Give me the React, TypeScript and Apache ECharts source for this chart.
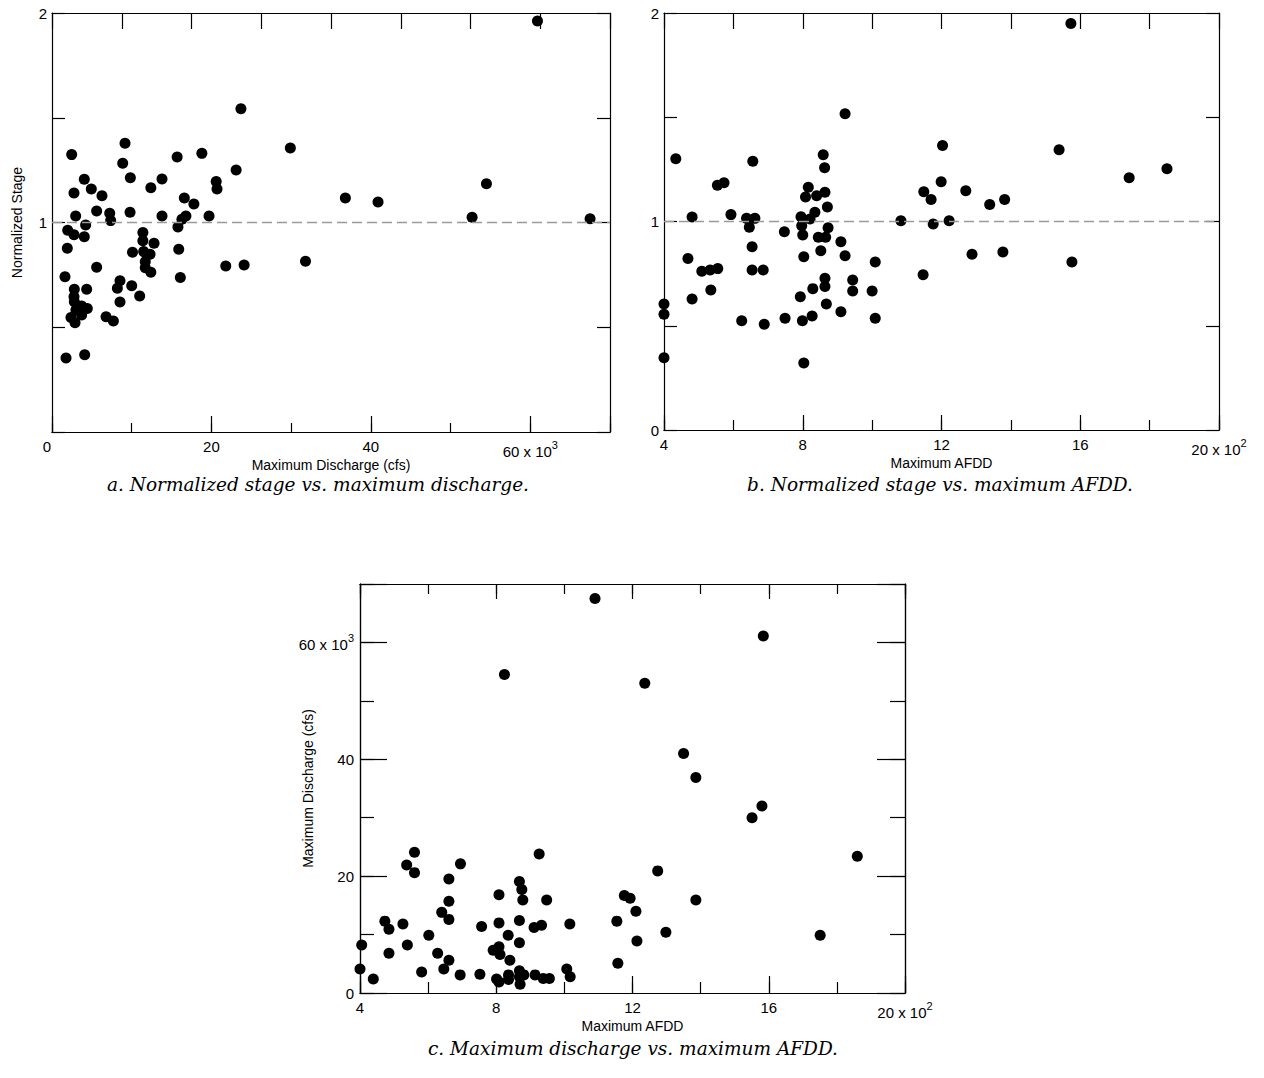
import React, { useEffect, useRef } from "react";
import * as echarts from "echarts";

// a. maximum discharge (x 10^3 cfs) vs. normalized stage
const stageVsDischarge: [number, number][] = [
  [23.7, 1.543], [9.16, 1.378], [2.47, 1.324], [15.7, 1.313], [18.8, 1.33], [8.87, 1.283],
  [29.9, 1.356], [23.1, 1.251], [9.83, 1.214], [4.05, 1.206], [13.8, 1.208], [12.4, 1.166],
  [4.93, 1.16], [20.6, 1.196], [20.7, 1.16], [2.76, 1.141], [6.27, 1.128], [16.6, 1.117],
  [17.8, 1.088], [5.6, 1.055], [7.24, 1.044], [9.79, 1.049], [2.97, 1.031], [13.8, 1.031],
  [19.7, 1.031], [16.8, 1.031], [16.3, 1.015], [7.36, 1.009], [4.22, 0.988], [1.97, 0.963],
  [11.4, 0.952], [15.8, 0.978],
  [60.9, 1.962], [36.8, 1.117], [40.9, 1.098], [54.5, 1.185], [52.7, 1.025], [67.5, 1.018],
  [2.76, 0.942], [4.05, 0.932], [11.4, 0.913], [12.8, 0.901], [10.1, 0.858], [11.5, 0.861],
  [12.3, 0.848], [11.7, 0.813], [11.7, 0.784], [12.4, 0.762], [15.9, 0.872], [16.1, 0.737],
  [1.92, 0.877], [5.6, 0.786], [1.63, 0.741], [21.8, 0.792], [24.1, 0.797], [31.8, 0.815],
  [2.8, 0.681], [4.35, 0.681], [8.53, 0.722], [8.2, 0.686], [10.0, 0.698], [11.0, 0.649],
  [8.53, 0.621], [2.76, 0.646], [2.8, 0.622], [3.72, 0.601], [4.43, 0.59], [3.0, 0.582],
  [3.72, 0.558], [2.38, 0.547], [2.89, 0.522], [6.78, 0.55], [7.7, 0.53], [1.76, 0.353],
  [4.1, 0.369],
];

// b. maximum AFDD (x 10^2) vs. normalized stage
const stageVsAfdd: [number, number][] = [
  [9.22, 1.517], [4.34, 1.301], [6.56, 1.289], [8.59, 1.32], [8.63, 1.258], [5.54, 1.174],
  [5.73, 1.186], [8.16, 1.164], [8.08, 1.117], [8.4, 1.124], [8.64, 1.14], [8.71, 1.07],
  [8.35, 1.044], [8.21, 1.012], [7.95, 1.023], [7.97, 0.98], [5.93, 1.033], [4.81, 1.022],
  [6.38, 1.015], [6.62, 1.015], [6.46, 0.972], [8.73, 0.97], [7.47, 0.951], [10.83, 1.004],
  [12.03, 1.364], [11.99, 1.191], [11.49, 1.143], [11.7, 1.106], [11.76, 0.988], [12.22, 1.004],
  [15.73, 1.95], [15.39, 1.344], [12.7, 1.148], [13.39, 1.082], [13.82, 1.105], [17.41, 1.21],
  [18.5, 1.253],
  [6.54, 0.879], [8.0, 0.935], [8.03, 0.831], [8.45, 0.924], [8.66, 0.924], [8.52, 0.86],
  [9.1, 0.903], [9.22, 0.836], [10.09, 0.806], [11.47, 0.745], [4.69, 0.823], [5.09, 0.761],
  [5.33, 0.767], [5.55, 0.774], [5.35, 0.671], [4.81, 0.628], [6.54, 0.767], [6.86, 0.767],
  [4.0, 0.604], [4.0, 0.555], [4.0, 0.347], [6.24, 0.524], [6.89, 0.507], [7.49, 0.536],
  [7.99, 0.524], [8.27, 0.547], [7.93, 0.639], [8.29, 0.678], [8.64, 0.728], [8.64, 0.688],
  [8.68, 0.604], [9.1, 0.567], [9.44, 0.719], [9.44, 0.667], [10.0, 0.667], [10.09, 0.536],
  [8.03, 0.321], [12.88, 0.843], [13.77, 0.854], [15.76, 0.806],
];

// c. maximum AFDD (x 10^2) vs. maximum discharge (x 10^3 cfs)
const dischargeVsAfdd: [number, number][] = [
  [8.24, 54.5], [10.9, 67.5], [15.84, 61.1], [12.36, 53.0], [13.5, 41.0], [13.86, 36.9],
  [15.8, 32.0], [15.51, 30.0], [18.6, 23.4], [12.74, 20.9], [11.76, 16.7], [11.93, 16.2],
  [13.86, 15.9], [12.1, 14.0], [11.54, 12.3], [12.98, 10.4], [17.51, 9.9], [12.13, 8.9],
  [11.57, 5.1],
  [5.6, 24.1], [5.37, 21.9], [5.6, 20.6], [6.95, 22.1], [6.61, 19.5], [6.61, 15.7],
  [6.4, 13.8], [6.61, 12.6], [9.26, 23.8], [8.68, 19.1], [8.75, 17.7], [8.78, 15.9],
  [9.48, 15.9], [8.08, 16.8], [8.08, 12.0], [8.68, 12.4], [8.35, 9.9], [8.68, 8.6],
  [9.11, 11.2], [9.33, 11.6], [10.16, 11.8], [7.57, 11.4], [7.91, 7.3], [8.08, 7.9],
  [8.11, 6.6], [8.4, 5.6], [6.02, 9.9], [6.28, 6.8], [6.46, 4.1], [6.61, 5.6], [6.94, 3.1],
  [5.81, 3.6], [7.52, 3.2], [4.73, 12.3], [4.85, 10.9], [5.26, 11.8], [5.39, 8.2],
  [4.85, 6.8], [4.05, 8.2], [4.0, 4.1], [4.39, 2.4],
  [8.01, 2.4], [8.08, 1.9], [8.36, 3.1], [8.36, 2.3], [8.68, 3.8], [8.68, 2.8], [8.7, 1.5],
  [8.81, 3.1], [9.14, 3.1], [9.38, 2.5], [9.56, 2.5], [10.07, 4.1], [10.17, 2.8],
];

const captions = [
  "a. Normalized stage vs. maximum discharge.",
  "b. Normalized stage vs. maximum AFDD.",
  "c. Maximum discharge vs. maximum AFDD.",
];

const SANS = "'Liberation Sans', Arial, Helvetica, sans-serif";
const SERIF = "'DejaVu Serif', 'Liberation Serif', serif";

const richLabels = {
  p: { fontSize: 15, fontFamily: SANS, color: "#000" },
  n: { fontSize: 15, fontFamily: SANS, color: "#000", lineHeight: 20, verticalAlign: "bottom" },
  s: { fontSize: 11, fontFamily: SANS, color: "#000", verticalAlign: "top", lineHeight: 20 },
  z: { fontSize: 15, fontFamily: SANS, color: "#000", padding: [0, 10, 0, 0] },
};

function axisBase(gridIndex: number, position: string, min: number, max: number, interval: number, tickLen: number) {
  return {
    type: "value",
    gridIndex,
    position,
    min,
    max,
    interval,
    axisLine: { show: true, onZero: false, lineStyle: { color: "#000", width: 1.2 } },
    axisTick: { show: true, inside: true, length: tickLen, lineStyle: { color: "#000", width: 1.2 } },
    axisLabel: { show: false },
    splitLine: { show: false },
  };
}

function labelled(axis: any, formatter: (v: number) => string, margin: number) {
  return {
    ...axis,
    axisLabel: {
      show: true,
      margin,
      fontSize: 15,
      fontFamily: SANS,
      color: "#000",
      showMinLabel: true,
      showMaxLabel: true,
      hideOverlap: false,
      formatter,
      rich: richLabels,
    },
  };
}

function named(axis: any, name: string, nameGap: number) {
  return {
    ...axis,
    name,
    nameLocation: "middle",
    nameGap,
    nameMoveOverlap: false,
    nameTextStyle: { fontSize: 14, fontFamily: SANS, color: "#000" },
  };
}

const fmtDischargeX = (v: number) =>
  v === 0 ? "{z|0}" : v === 60 ? "{n|60 x 10}{s|3}" : v > 60 ? "" : `{p|${v}}`;
const fmtAfdd = (v: number) => (v === 20 ? "{n|20 x 10}{s|2}" : `{p|${v}}`);
const fmtStageA = (v: number) => (v === 1 || v === 2 ? String(v) : "");
const fmtStageB = (v: number) => (Number.isInteger(v) ? String(v) : "");
const fmtDischargeY = (v: number) => (v === 60 ? "{n|60 x 10}{s|3}" : v > 60 ? "" : `{p|${v}}`);

export default function App() {
  const ref = useRef<HTMLDivElement>(null);

  useEffect(() => {
    if (!ref.current) return;
    const chart = echarts.init(ref.current, undefined, { renderer: "svg" });

    const xAxis = [
      // panel a
      named(labelled(axisBase(0, "bottom", 0, 70, 20, 16), fmtDischargeX, 7), "Maximum Discharge (cfs)", 26),
      axisBase(0, "bottom", 0, 70, 10, 9),
      axisBase(0, "top", 0, 70, 8.75, 16),
      // panel b
      named(labelled(axisBase(1, "bottom", 4, 20, 4, 15), fmtAfdd, 7), "Maximum AFDD", 26),
      axisBase(1, "bottom", 4, 20, 2, 10),
      axisBase(1, "top", 4, 20, 2, 16),
      // panel c
      named(labelled(axisBase(2, "bottom", 4, 20, 4, 17), fmtAfdd, 7), "Maximum AFDD", 26),
      axisBase(2, "bottom", 4, 20, 2, 11),
      axisBase(2, "top", 4, 20, 4, 15),
      axisBase(2, "top", 4, 20, 2, 10),
    ];

    const yAxis = [
      // panel a
      named(labelled(axisBase(0, "left", 0, 2, 0.5, 13), fmtStageA, 5), "Normalized Stage", 28),
      axisBase(0, "right", 0, 2, 0.5, 13),
      // panel b
      labelled(axisBase(1, "left", 0, 2, 0.5, 13), fmtStageB, 5),
      axisBase(1, "right", 0, 2, 0.5, 13),
      // panel c
      named(labelled(axisBase(2, "left", 0, 70, 20, 27), fmtDischargeY, 6), "Maximum Discharge (cfs)", 45),
      axisBase(2, "left", 0, 70, 10, 14),
      axisBase(2, "right", 0, 70, 20, 28),
      axisBase(2, "right", 0, 70, 10, 15),
    ];

    const refLine = {
      silent: true,
      symbol: "none",
      label: { show: false },
      lineStyle: { color: "#9a9a9a", type: [10, 5], width: 1.3 },
      data: [{ yAxis: 1 }],
    };

    const dot = {
      type: "scatter",
      symbol: "circle",
      symbolSize: 11,
      clip: false,
      itemStyle: { color: "#000", opacity: 1 },
    };

    const caption = (text: string, x: number, y: number) => ({
      type: "text",
      x,
      y,
      style: {
        text,
        font: `italic 18.5px ${SERIF}`,
        fill: "#000",
        textAlign: "center",
        textVerticalAlign: "middle",
      },
    });

    chart.setOption({
      animation: false,
      backgroundColor: "#fff",
      grid: [
        { left: 52, top: 13, width: 558, height: 419 },
        { left: 664, top: 13, width: 555, height: 417 },
        { left: 360, top: 584, width: 545, height: 409 },
      ],
      xAxis,
      yAxis,
      series: [
        { ...dot, xAxisIndex: 0, yAxisIndex: 0, data: stageVsDischarge, markLine: refLine },
        { ...dot, xAxisIndex: 3, yAxisIndex: 2, data: stageVsAfdd, markLine: refLine },
        { ...dot, xAxisIndex: 6, yAxisIndex: 4, data: dischargeVsAfdd },
      ],
      graphic: [
        caption(captions[0], 318, 484),
        caption(captions[1], 940, 484),
        caption(captions[2], 633, 1048),
      ],
    });

    return () => chart.dispose();
  }, []);

  return (
    <div
      ref={ref}
      style={{ position: "absolute", left: 0, top: 0, width: 1264, height: 1078, background: "#fff" }}
    />
  );
}
